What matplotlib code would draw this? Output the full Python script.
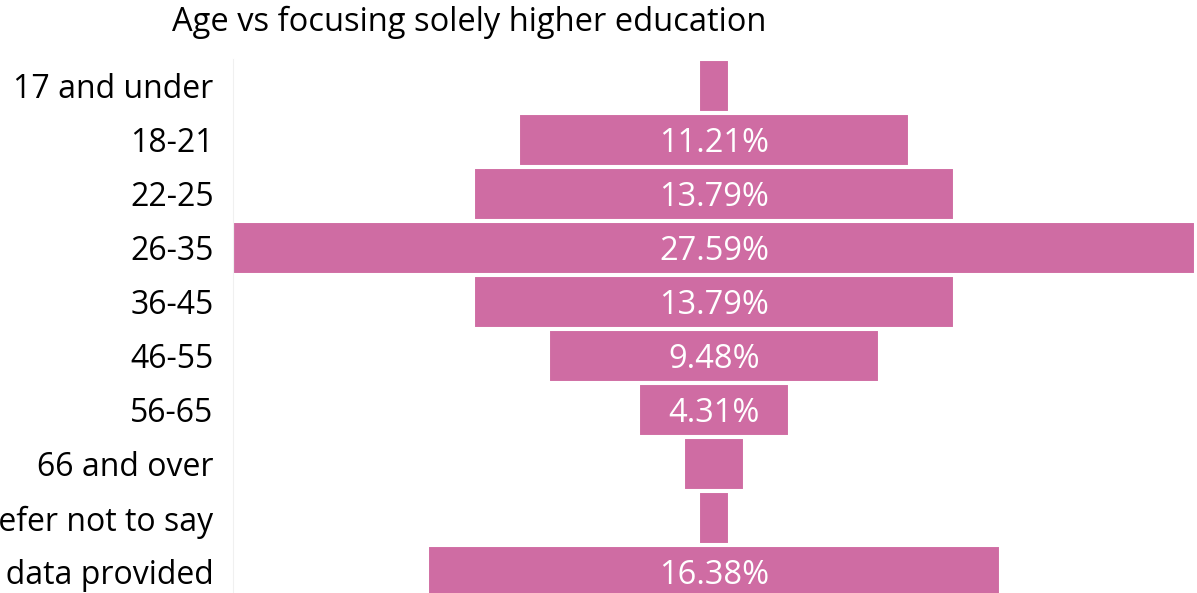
import matplotlib
matplotlib.use("Agg")
import matplotlib.pyplot as plt

# funnel: age groups vs share focusing solely on higher education
ages = ["17 and under", "18-21", "22-25", "26-35", "36-45", "46-55",
        "56-65", "66 and over", "Prefer not to say", "No data provided"]
shares = [0.86, 11.21, 13.79, 27.59, 13.79, 9.48, 4.31, 1.72, 0.86, 16.38]
shown = [False, True, True, True, True, True, True, False, False, True]

pink = "#CF6CA3"
plt.rcParams['font.family'] = ['Open Sans', 'DejaVu Sans']

fig = plt.figure(figsize=(11.97, 5.93), dpi=100)
W, H = 1197, 593
ax = fig.add_axes([233 / W, 0, 962 / W, (593 - 59) / H])

ypos = list(range(len(ages)))
lefts = [-s / 2 for s in shares]
ax.barh(ypos, shares, left=lefts, height=0.97, color=pink,
        edgecolor="white", linewidth=1.5)

for y, s, sh in zip(ypos, shares, shown):
    if sh:
        ax.text(0, y, f"{s:.2f}%", ha="center", va="center_baseline",
                color="white", fontsize=23.5)

ax.set_xlim(-27.59 / 2, 27.59 / 2)
ax.set_ylim((593 - 86) / 54, -0.5)
ax.set_yticks(ypos)
ax.set_yticklabels(ages, fontsize=23, va="center_baseline")
ax.tick_params(axis="y", length=0, pad=14)
ax.set_xticks([])
for side in ["top", "right", "bottom"]:
    ax.spines[side].set_visible(False)
ax.spines["left"].set_color("#f0f0f0")

fig.text(469 / W, 1 - 22 / H, "Age vs focusing solely higher education",
         ha="center", va="center", fontsize=23.5)

fig.savefig("out.png", dpi=100)
